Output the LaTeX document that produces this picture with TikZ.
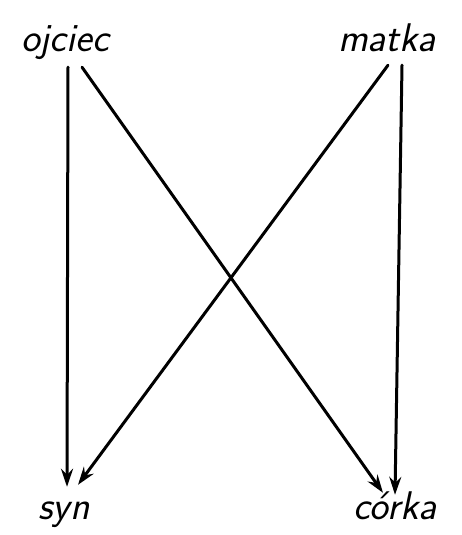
\documentclass[tikz,border=0pt]{standalone}
\usetikzlibrary{arrows.meta,calc}
\begin{document}
\begin{tikzpicture}[x=1pt,y=1pt,
  lbl/.style={inner sep=0pt, anchor=base, text height=28pt, text depth=8pt,
    font=\fontsize{40}{44}\selectfont\sffamily\itshape},
  arr/.style={line width=3pt, line cap=round, -{Stealth[length=18pt,width=12pt,inset=6pt]}}]
\useasboundingbox (0,0) rectangle (462,535);
\node[lbl] (ojciec) at (65,483) {ojciec};
\node[lbl] (matka) at (387,483) {matka};
\node[lbl] (syn) at (64,15) {syn};
\node[lbl] (corka) at (395,15) {córka};
\draw[arr] ($(ojciec.south)+(3,-7)$) -- ($(syn.north)+(3,5)$);
\draw[arr] ($(ojciec.south)+(17,-7)$) -- ($(corka.north)+(-12,-1)$);
\draw[arr] ($(matka.south)+(1,-5)$) -- ($(syn.north)+(14,7)$);
\draw[arr] ($(matka.south)+(15,-5)$) -- ($(corka.north)+(0,-3)$);
\end{tikzpicture}
\end{document}
